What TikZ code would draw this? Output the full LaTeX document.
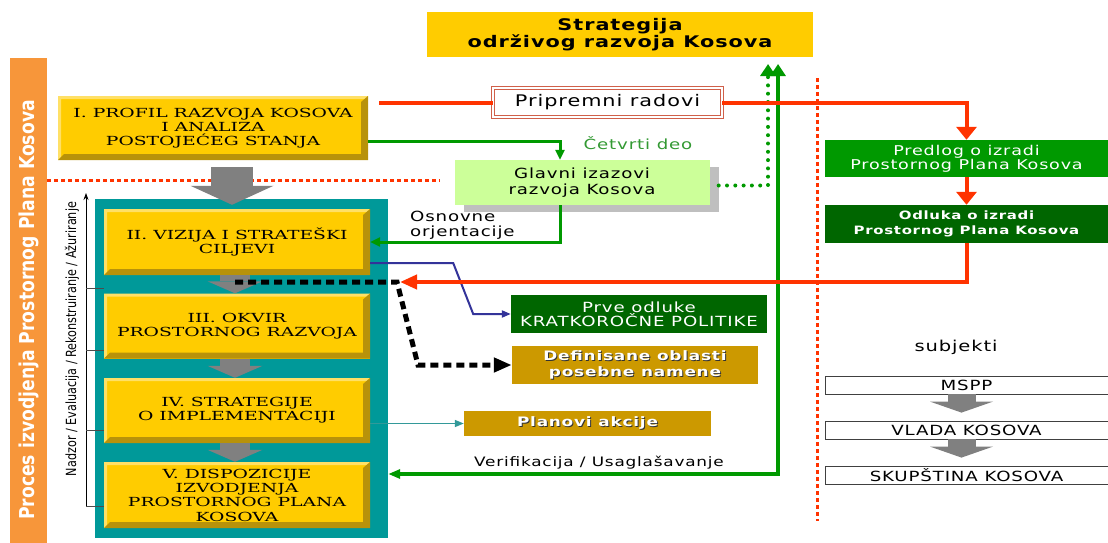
\documentclass[tikz,border=0pt]{standalone}
\usepackage{fontspec}
\setmainfont[FakeStretch=1.3,LetterSpace=6]{DejaVu Sans}
\newfontfamily\stagefont[FakeStretch=1.5]{DejaVu Serif}
\newfontfamily\barfont[FakeStretch=0.84]{DejaVu Sans}
\newfontfamily\rulefont[FakeStretch=0.8]{DejaVu Sans}
\usetikzlibrary{arrows.meta,shadows,calc}

\definecolor{stageyellow}{HTML}{FFCC00}
\definecolor{stagedark}{HTML}{B8920A}
\definecolor{stagelight}{HTML}{FFE066}
\definecolor{framecyan}{HTML}{009999}
\definecolor{barorange}{HTML}{F7963A}
\definecolor{lineorange}{HTML}{FF3300}
\definecolor{prepred}{HTML}{D0604A}
\definecolor{linegreen}{HTML}{009900}
\definecolor{boxgreen}{HTML}{009900}
\definecolor{boxdkgreen}{HTML}{006600}
\definecolor{palegreen}{HTML}{CCFF99}
\definecolor{ochre}{HTML}{CC9900}
\definecolor{lineblue}{HTML}{333399}
\definecolor{lineteal}{HTML}{339999}
\definecolor{labelgreen}{HTML}{339933}
\definecolor{arrowgray}{HTML}{808080}

\newcommand\shadowed[1]{\makebox[0pt][l]{\hspace{1pt}\raisebox{-1pt}{\color{black!80}#1}}\textcolor{white}{#1}}

\tikzset{
  bevel/.style={path picture={
    \fill[stagelight] (path picture bounding box.south west) -- (path picture bounding box.north west)
      -- (path picture bounding box.north east) -- ([shift={(-3pt,-3pt)}]path picture bounding box.north east)
      -- ([shift={(3pt,-3pt)}]path picture bounding box.north west) -- ([shift={(3pt,3pt)}]path picture bounding box.south west) -- cycle;
    \fill[stagedark] (path picture bounding box.north east) -- (path picture bounding box.south east)
      -- (path picture bounding box.south west) -- ([shift={(6pt,6pt)}]path picture bounding box.south west)
      -- ([shift={(-7pt,6pt)}]path picture bounding box.south east) -- ([shift={(-7pt,-6pt)}]path picture bounding box.north east) -- cycle;}},
  stage/.style={fill=stageyellow, bevel, minimum width=266pt, minimum height=65pt, align=center, inner sep=0pt,
    font=\stagefont\fontsize{12.5}{14.3}\selectfont},
  frame/.style={fill=framecyan, minimum width=293pt, minimum height=339pt},
  goal/.style={fill=stageyellow, minimum width=386pt, minimum height=45pt, align=center,
    font=\bfseries\fontsize{16}{17}\selectfont},
  prepbox/.style={draw=prepred, double=white, double distance=2pt, line width=0.9pt, fill=white,
    minimum width=229pt, minimum height=29pt, font=\fontsize{16}{16}\selectfont},
  challenge/.style={fill=palegreen, minimum width=255pt, minimum height=45pt, align=center,
    drop shadow={shadow xshift=9pt, shadow yshift=-7pt, fill=black!25, opacity=1},
    font=\fontsize{14}{16}\selectfont},
  greenbox/.style={fill=boxgreen, text=white, minimum width=283pt, minimum height=37pt, align=center,
    inner sep=0pt, font=\fontsize{13.5}{14}\selectfont},
  darkbox/.style={fill=boxdkgreen, text=white, minimum width=256pt, minimum height=38pt, align=center,
    inner sep=0pt, font=\fontsize{14}{14}\selectfont},
  ochrebox/.style={fill=ochre, align=center, inner sep=0pt, font=\bfseries\fontsize{13}{16}\selectfont},
  subjbox/.style={draw=black!75, line width=0.8pt, minimum width=283pt, minimum height=18pt, inner sep=0pt,
    font=\fontsize{14}{14}\selectfont},
  bartext/.style={text=white, font=\barfont\bfseries\fontsize{20.5}{20.5}\selectfont},
  ruletext/.style={font=\rulefont\fontsize{14}{14}\selectfont},
  redline/.style={draw=lineorange, line width=4pt},
  redtip/.style={-{Triangle[width=20pt,length=13pt]}},
  greenline/.style={draw=linegreen, line width=3pt},
  greentip/.style={-{Triangle[width=9pt,length=10pt]}},
  greendots/.style={draw=linegreen, line width=4pt, line cap=round, dash pattern=on 0pt off 8.3pt},
  reddots/.style={draw=lineorange, line width=3pt, dash pattern=on 4pt off 3pt},
  blueline/.style={draw=lineblue, line width=2pt},
  tealline/.style={draw=lineteal, line width=1.6pt},
  smalltip/.style={-{Triangle[width=7pt,length=9pt]}},
  blackdash/.style={draw=black, line width=5pt, dash pattern=on 8pt off 5pt, -{Triangle[width=14pt,length=18pt]}},
  blockarrow/.style={draw=arrowgray, line width=42pt, -{Triangle[width=83pt,length=19pt,line width=0pt]}},
  steparrow/.style={draw=arrowgray, line width=30pt, -{Triangle[width=55pt,length=12pt,line width=0pt]}},
  subjarrow/.style={draw=arrowgray, line width=28pt, -{Triangle[width=63pt,length=11pt,line width=0pt]}}
}

\begin{document}
\begin{tikzpicture}[x=1pt,y=-1pt]
\useasboundingbox (0,0) rectangle (1108,543);
%\draw[step=50,gray,very thin] (0,0) grid (1108,543);

%process bar
\fill[barorange] (10,58) rectangle (47,543);
\node[bartext, rotate=90] (process) at (29,310) {Proces izvodjenja Prostornog Plana Kosova};

%goal
\node[goal] (strategy) at (620,34.5) {Strategija\\održivog razvoja Kosova};

%separators
\draw[reddots] (47,180) -- (440,180);
\draw[reddots] (817,78) -- (817,521);

%stage I
\node[stage, minimum width=310pt, minimum height=64pt] (profile) at (213,128) {I. PROFIL RAZVOJA KOSOVA\\I ANALIZA\\POSTOJEĆEG STANJA};

%stages II-V
\node[frame] (frame) at (241.5,368.5) {};
\node[stage, minimum height=66pt] (vision) at (237,242) {II. VIZIJA I STRATEŠKI\\CILJEVI};
\node[stage] (framework) at (237,326) {III. OKVIR\\PROSTORNOG RAZVOJA};
\node[stage] (strategies) at (237,410.5) {IV. STRATEGIJE\\O IMPLEMENTACIJI};
\node[stage, minimum height=66pt] (provisions) at (237,495) {V. DISPOZICIJE\\IZVODJENJA\\PROSTORNOG PLANA\\KOSOVA};

\draw[blockarrow] ($(profile.south -| vision.north)+(-5,7)$) -- ($(frame.north -| vision.north)+(-5,6)$);
\foreach \a/\b in {vision/framework,framework/strategies,strategies/provisions}
  \draw[steparrow] ([xshift=-2pt]\a.south) -- ([xshift=-2pt]\b.north);

%review bracket
\draw[line width=0.8pt, -{Stealth[length=7pt,width=5pt]}] (86,506) -- (86,193);
\foreach \ty in {288,350,430,506}
  \draw[line width=0.8pt, black!70] (86,\ty) -- (104,\ty);
\node[ruletext, rotate=90] (review) at (72,339) {Nadzor / Evaluacija / Rekonstruiranje / Ažuriranje};

%right column
\node[greenbox] (proposal) at (966.5,158.5) {Predlog o izradi\\Prostornog Plana Kosova};
\node[greenbox, fill=boxdkgreen, minimum height=38pt, font=\bfseries\fontsize{11.5}{15}\selectfont] (decision) at (966.5,224) {Odluka o izradi\\Prostornog Plana Kosova};

%challenges
\node[challenge] (challenges) at (582,182.5) {Glavni izazovi\\razvoja Kosova};
\node[text=labelgreen, font=\fontsize{14}{14}\selectfont] (fourth) at (638,143) {Četvrti deo};
\node[anchor=west, align=left, inner sep=0pt, font=\fontsize{14}{15}\selectfont] (basics) at (410,225) {Osnovne\\orjentacije};
\draw[greenline, greentip] ([yshift=-13pt]profile.east) -| ([xshift=-22pt]challenges.north);
\draw[greenline, greentip] ([xshift=-22pt]challenges.south) |- (vision.east);

\coordinate (dottip) at (768,64);
\draw[greendots, -{Triangle[width=15pt,length=12pt]}] ([xshift=9pt,yshift=-3pt]challenges.east) -| (dottip);
\coordinate (verifcorner) at (778,474);
\coordinate (goaltip) at (778,64);
\draw[greenline, line width=3.5pt, {Triangle[width=9pt,length=12pt]}-{Triangle[width=15pt,length=12pt]}]
  (frame.east |- verifcorner) -- (verifcorner) -- (goaltip);
\node[font=\fontsize{13}{13}\selectfont] (verif) at (599,463) {Verifikacija / Usaglašavanje};

%outputs
\node[darkbox] (firstdec) at (639,314) {Prve odluke\\KRATKOROČNE POLITIKE};
\node[ochrebox, minimum width=246pt, minimum height=38pt] (areas) at (635,365) {\shadowed{Definisane oblasti}\\\shadowed{posebne namene}};
\node[ochrebox, minimum width=247pt, minimum height=25pt] (actions) at (587.5,423.5) {\shadowed{Planovi akcije}};

\draw[blueline, smalltip] ([yshift=-21pt]vision.east) -- ++(83,0) -- ++(20,51) -- (firstdec.west);
\coordinate (dashstart) at (235,282);
\draw[blackdash] (dashstart) -- ++(162,0) -- ++(21,83) -- (areas.west);
\draw[tealline, smalltip] (strategies.east |- actions.west) -- (actions.west);

%preparation, red chain
\node[prepbox] (prep) at (607.5,102.5) {Pripremni radovi};
\coordinate (redstart) at (379,102.5);
\draw[redline] (redstart) -- (prep.west);
\draw[redline, redtip] (prep.east) -| (proposal.north);
\draw[redline, redtip] (proposal.south) -- (decision.north);
\coordinate (redend) at (400,282);
\draw[redline, -{Triangle[width=14pt,length=17pt]}] (decision.south) |- (redend);

%subjects
\node[font=\fontsize{15}{15}\selectfont] (subjects) at (956,347) {subjekti};
\node[subjbox] (mspp) at (966.5,385) {MSPP};
\node[subjbox] (gov) at (966.5,430) {VLADA KOSOVA};
\node[subjbox] (assembly) at (966.5,475) {SKUPŠTINA KOSOVA};
\draw[subjarrow] ([xshift=-5pt]mspp.south) -- ([xshift=-5pt,yshift=8pt]gov.north);
\draw[subjarrow] ([xshift=-5pt]gov.south) -- ([xshift=-5pt,yshift=8pt]assembly.north);

\end{tikzpicture}
\end{document}
